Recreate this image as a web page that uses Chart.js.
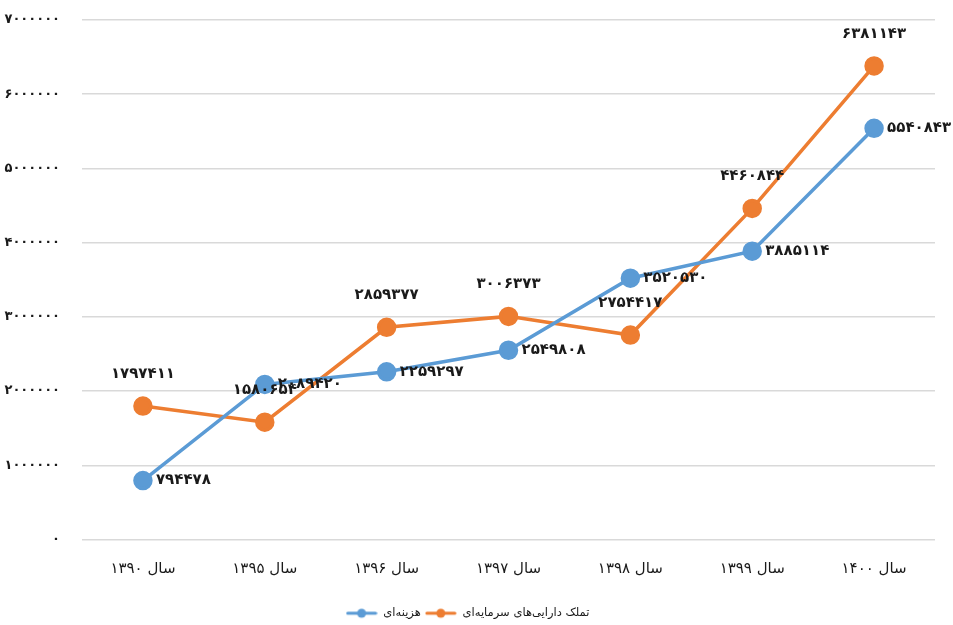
<!DOCTYPE html>
<html>
<head>
<meta charset="utf-8">
<script src="https://cdn.jsdelivr.net/npm/chart.js@4"></script>
<style>
  html, body { margin: 0; padding: 0; background: #fff; }
  #wrap { width: 953px; height: 625px; }
</style>
</head>
<body>
<div id="wrap"><canvas id="grafico"></canvas></div>
<script>
const categorias = ['سال ۱۳۹۰', 'سال ۱۳۹۵', 'سال ۱۳۹۶', 'سال ۱۳۹۷', 'سال ۱۳۹۸', 'سال ۱۳۹۹', 'سال ۱۴۰۰'];
const hazineh = [794478, 2089420, 2259297, 2549808, 3520530, 3885114, 5540843];
const tamalok = [1797411, 1580654, 2859377, 3006373, 2754417, 4460844, 6381143];
const ejeMax = 7000000;
const ejePaso = 1000000;

const azul = '#5b9bd5';
const naranja = '#ed7d31';
const fuente = 'DejaVu Sans';

function persa(n) {
    return String(n).replace(/[0-9]/g, d => '۰۱۲۳۴۵۶۷۸۹'[d]);
}

// muestra de leyenda: línea con círculo
function muestra(color) {
    const c = document.createElement('canvas');
    c.width = 32; c.height = 12;
    const g = c.getContext('2d');
    g.strokeStyle = color;
    g.lineWidth = 3;
    g.lineCap = 'round';
    g.beginPath(); g.moveTo(2, 6); g.lineTo(30, 6); g.stroke();
    g.fillStyle = color;
    g.beginPath(); g.arc(16, 6, 4.5, 0, Math.PI * 2); g.fill();
    return c;
}

// etiquetas de datos
const etiquetas = {
    id: 'etiquetas',
    afterDatasetsDraw(chart) {
        const ctx = chart.ctx;
        ctx.save();
        ctx.font = 'bold 15px "' + fuente + '"';
        ctx.fillStyle = '#1a1a1a';
        chart.data.datasets.forEach((ds, i) => {
            const meta = chart.getDatasetMeta(i);
            meta.data.forEach((p, j) => {
                const txt = persa(ds.data[j]);
                ctx.textBaseline = 'middle';
                if (ds.etiqueta === 'derecha') {
                    ctx.textAlign = 'left';
                    ctx.fillText(txt, p.x + 13, p.y);
                } else {
                    ctx.textAlign = 'center';
                    ctx.fillText(txt, p.x, p.y - 32);
                }
            });
        });
        ctx.restore();
    }
};

new Chart(document.getElementById('grafico'), {
    type: 'line',
    data: {
        labels: categorias,
        datasets: [
            {
                label: 'هزینه‌ای',
                data: hazineh,
                borderColor: azul,
                backgroundColor: azul,
                borderWidth: 3.5,
                pointRadius: 8,
                pointHoverRadius: 8,
                pointStyle: 'circle',
                etiqueta: 'derecha'
            },
            {
                label: 'تملک دارایی‌های سرمایه‌ای',
                data: tamalok,
                borderColor: naranja,
                backgroundColor: naranja,
                borderWidth: 3.5,
                pointRadius: 8,
                pointHoverRadius: 8,
                pointStyle: 'circle',
                etiqueta: 'arriba'
            }
        ]
    },
    options: {
        responsive: true,
        maintainAspectRatio: false,
        animation: false,
        layout: { padding: { top: 20, right: 18, left: 0, bottom: -4 } },
        scales: {
            x: {
                offset: true,
                grid: { display: false },
                border: { display: false },
                ticks: { color: '#1a1a1a', font: { family: fuente, size: 15 }, padding: 13 },
                afterFit(s) { s.height = 64; }
            },
            y: {
                min: 0,
                max: ejeMax,
                ticks: {
                    stepSize: ejePaso,
                    color: '#1a1a1a',
                    font: { family: fuente, size: 13, weight: 'bold' },
                    padding: 22,
                    callback: v => persa(v)
                },
                grid: { color: '#d9d9d9', lineWidth: 1.5, drawTicks: false },
                border: { display: false },
                afterFit(s) {
                    s.width = 82;
                    s.paddingTop = 0;
                    s.paddingBottom = 0;
                }
            }
        },
        plugins: {
            legend: {
                position: 'bottom',
                labels: {
                    usePointStyle: true,
                    pointStyleWidth: 32,
                    color: '#1a1a1a',
                    font: { family: fuente, size: 11.5 },
                    padding: 4,
                    generateLabels(chart) {
                        return chart.data.datasets.map((ds, i) => ({
                            text: ds.label,
                            pointStyle: muestra(ds.borderColor),
                            fillStyle: ds.borderColor,
                            strokeStyle: ds.borderColor,
                            lineWidth: 0,
                            fontColor: '#1a1a1a',
                            datasetIndex: i,
                            hidden: false
                        }));
                    }
                }
            },
            tooltip: { enabled: false }
        }
    },
    plugins: [etiquetas]
});
</script>
</body>
</html>
